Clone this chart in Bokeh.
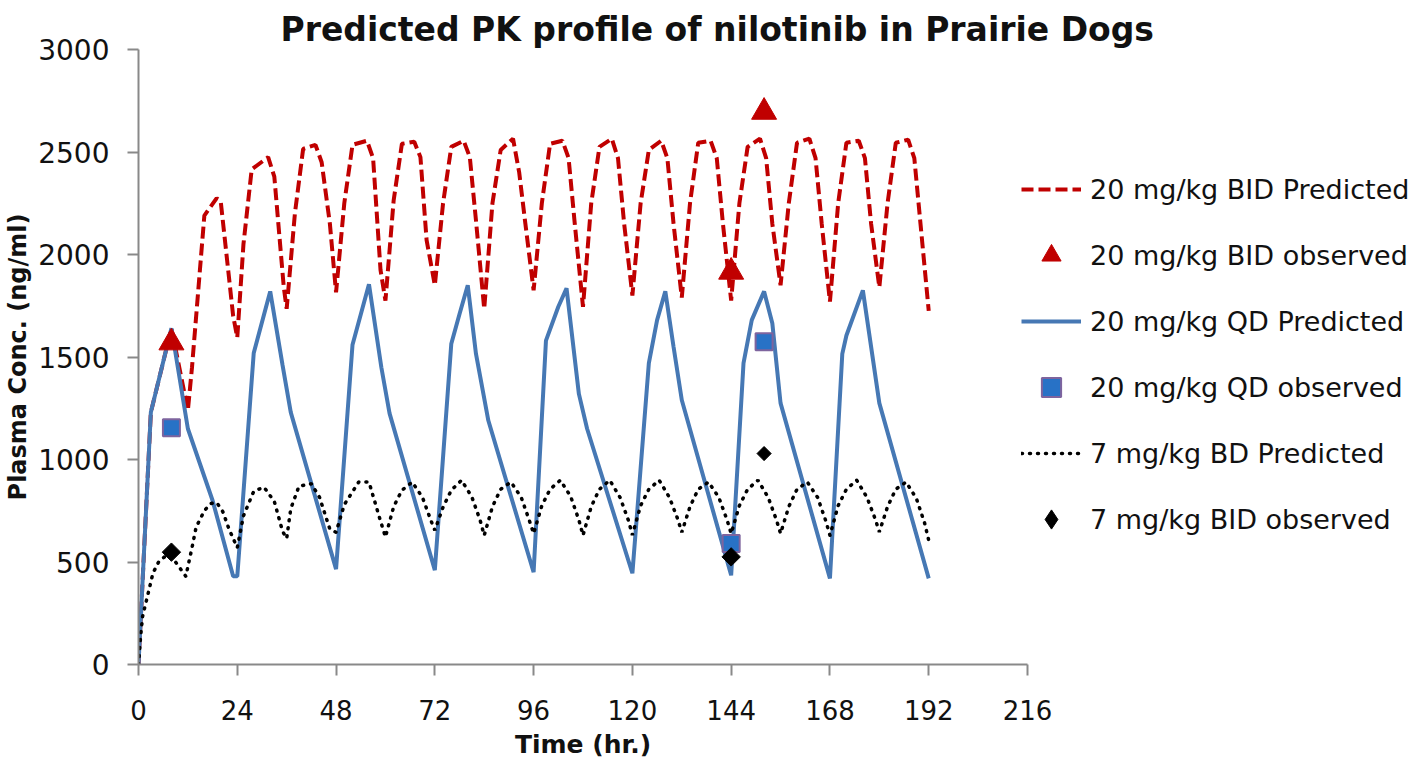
from math import pi
from bokeh.plotting import figure
from bokeh.models import Range1d, FixedTicker, Legend, LegendItem, Title
from bokeh.embed import file_html
from bokeh.resources import INLINE

# ---------------- data ----------------
title_text = "Predicted PK profile of nilotinib in Prairie Dogs"
x_label = "Time (hr.)"
y_label = "Plasma Conc. (ng/ml)"
x_ticks = [0, 24, 48, 72, 96, 120, 144, 168, 192, 216]
y_ticks = [0, 500, 1000, 1500, 2000, 2500, 3000]

# 20 mg/kg BID predicted (hours, ng/ml)
bid_t = [0, 3, 8, 12, 13, 16, 19, 20, 23, 24,
         25.5, 27.5, 31.5, 33, 35.3, 36,
         38, 40, 43, 44.5, 46.5, 48,
         50, 52, 55.5, 57, 58.8, 60,
         62, 64, 67, 68.5, 70, 72,
         74, 76, 79, 80.5, 82, 84,
         86, 88, 91, 92.5, 94, 96,
         98, 100, 103, 104.5, 106, 108,
         110, 112, 115, 116.5, 118, 120,
         122, 124, 127, 128.5, 130, 132,
         134, 136, 139, 140.5, 142, 144,
         146, 148, 151, 152.5, 154, 156,
         158, 160, 163, 164.5, 166, 168,
         170, 172, 175, 176.5, 178, 180,
         182, 184, 187, 188.5, 190, 192]
bid_v = [0, 1230, 1640, 1240, 1450, 2190, 2275, 2255, 1700, 1595,
         2050, 2415, 2475, 2380, 1840, 1735,
         2200, 2515, 2535, 2450, 2150, 1815,
         2250, 2535, 2555, 2470, 1925, 1775,
         2265, 2540, 2550, 2475, 2070, 1850,
         2250, 2525, 2555, 2475, 2165, 1735,
         2250, 2510, 2565, 2400, 2150, 1825,
         2250, 2540, 2555, 2470, 2150, 1745,
         2250, 2525, 2565, 2470, 2150, 1800,
         2250, 2510, 2555, 2470, 2150, 1790,
         2250, 2545, 2555, 2470, 2150, 1775,
         2250, 2525, 2565, 2470, 2150, 1850,
         2250, 2545, 2565, 2470, 2150, 1770,
         2250, 2545, 2555, 2470, 2150, 1840,
         2250, 2545, 2560, 2470, 2150, 1725]

# 20 mg/kg QD predicted
qd_t = [0, 3, 8, 12, 18, 23, 24,
        28, 32, 35, 37, 48,
        52, 56, 59, 61, 72,
        76, 78, 80, 82, 85, 96,
        99, 102, 104, 107, 109, 120,
        124, 126, 128, 130, 132, 144,
        147, 149, 152, 154, 156, 168,
        171, 172, 176, 180, 192]
qd_v = [0, 1230, 1640, 1150, 800, 430, 430,
        1520, 1820, 1460, 1230, 465,
        1560, 1855, 1450, 1225, 460,
        1565, 1710, 1850, 1515, 1190, 450,
        1580, 1745, 1835, 1320, 1150, 445,
        1470, 1680, 1820, 1550, 1290, 435,
        1470, 1680, 1820, 1665, 1275, 420,
        1515, 1605, 1825, 1275, 420]

# 7 mg/kg BD predicted
bd_t = [0, 0.5, 1, 2.5, 3.5, 5, 7, 9, 11.5,
        13, 14, 16, 17.5, 19, 20.5, 22, 24,
        25.5, 28, 30.5, 33, 35, 36,
        37, 39, 42, 44, 46.5, 48,
        50, 53.5, 56, 58.5, 60,
        62, 64, 66.5, 69, 71, 72,
        74, 76, 78.5, 81, 83, 84,
        86, 88, 90.5, 93, 95, 96,
        98, 100, 102.5, 105, 107, 108,
        110, 112, 114.5, 117, 119, 120,
        122, 124, 126.5, 129, 131, 132,
        134, 136, 138.5, 141, 143, 144,
        146, 148, 150.5, 153, 155, 156,
        158, 160, 162.5, 165, 167, 168,
        170, 172, 174.5, 177, 179, 180,
        182, 184, 186.5, 189, 191, 192]
bd_v = [0, 135, 235, 360, 445, 505, 535, 500, 430,
        570, 670, 750, 785, 790, 745, 660, 570,
        725, 845, 865, 795, 650, 615,
        760, 870, 882, 815, 660, 645,
        780, 890, 890, 720, 622,
        770, 850, 890, 815, 705, 655,
        768, 850, 899, 817, 704, 630,
        770, 855, 890, 815, 700, 639,
        775, 855, 899, 820, 705, 630,
        770, 855, 899, 815, 705, 632,
        775, 855, 899, 815, 710, 645,
        770, 855, 890, 815, 705, 639,
        775, 855, 899, 815, 705, 639,
        770, 855, 890, 815, 700, 630,
        775, 855, 899, 815, 710, 647,
        770, 855, 890, 810, 690, 606]

# observed points
bid_obs_t = [8, 144, 152]
bid_obs_v = [1570, 1915, 2695]
qd_obs_t = [8, 144, 152]
qd_obs_v = [1155, 590, 1575]
bd_obs_t = [8, 144, 152]
bd_obs_v = [548, 525, 1029]

legend_labels = ["20 mg/kg BID Predicted", "20 mg/kg BID observed",
                 "20 mg/kg QD Predicted", "20 mg/kg QD observed",
                 "7 mg/kg BD Predicted", "7 mg/kg BID observed"]

# ---------------- styling ----------------
FONT = "DejaVu Sans"
RED = "#C00000"
BLUE = "#4678B4"
AXIS = "#898989"
TXT = "#111111"
bd_obs_size = [13, 13, 10]

p = figure(frame_width=889, frame_height=615,
           min_border_left=138, min_border_right=391,
           min_border_top=49, min_border_bottom=92,
           x_range=Range1d(0, 216), y_range=Range1d(0, 3000),
           output_backend="svg", toolbar_location=None, tools="")
p.xgrid.visible = False
p.ygrid.visible = False
p.outline_line_color = None
p.background_fill_color = "white"
p.border_fill_color = "white"

p.title = Title(text=title_text, align="left", offset=142, standoff=1,
                text_font=FONT, text_font_style="bold", text_font_size="33px",
                text_color=TXT)

p.xaxis.ticker = FixedTicker(ticks=x_ticks)
p.yaxis.ticker = FixedTicker(ticks=y_ticks)
for ax in (p.xaxis, p.yaxis):
    ax.axis_line_color = AXIS
    ax.axis_line_width = 2
    ax.major_tick_line_color = AXIS
    ax.major_tick_line_width = 2
    ax.major_tick_out = 11
    ax.major_tick_in = 0
    ax.minor_tick_line_color = None
    ax.major_label_text_font = FONT
    ax.major_label_text_color = TXT
    ax.axis_label_text_font = FONT
    ax.axis_label_text_font_style = "bold"
    ax.axis_label_text_color = TXT

p.xaxis.major_label_text_font_size = "26px"
p.xaxis.major_label_standoff = 24
p.xaxis.axis_label = x_label
p.xaxis.axis_label_text_font_size = "25px"
p.xaxis.axis_label_standoff = 7

p.yaxis.major_label_text_font_size = "28px"
p.yaxis.major_label_standoff = 18
p.yaxis.axis_label = y_label
p.yaxis.axis_label_text_font_size = "24px"
p.yaxis.axis_label_standoff = 3

# lines
r_bid = p.line(bid_t, bid_v, line_color=RED, line_width=4, line_dash="12 5")
r_qd = p.line(qd_t, qd_v, line_color=BLUE, line_width=4)
r_bd = p.line(bd_t, bd_v, line_color="black", line_width=3.5, line_dash="1 7", line_cap="round")

# markers
r_bid_obs = p.scatter(bid_obs_t, bid_obs_v, marker="triangle", size=25,
                      fill_color=RED, line_color=RED, line_width=1)
r_qd_obs = p.scatter(qd_obs_t, qd_obs_v, marker="square", size=17,
                     fill_color="#2872C6", line_color="#7E649E", line_width=2)
# diamond glyph (used for the legend swatch), covered by the rotated squares below
r_bd_key = p.scatter(bd_obs_t, bd_obs_v, marker="diamond", size=12,
                     fill_color="black", line_color="black", line_width=1)
p.scatter(bd_obs_t, bd_obs_v, marker="square", size=bd_obs_size, angle=pi / 4,
          fill_color="black", line_color="black", line_width=1)

items = [LegendItem(label=lab, renderers=[r]) for lab, r in
         zip(legend_labels, [r_bid, r_bid_obs, r_qd, r_qd_obs, r_bd, r_bd_key])]
legend = Legend(items=items, location=(-6, 121), orientation="vertical",
                glyph_width=60, glyph_height=48, label_height=48, spacing=18,
                label_standoff=9, padding=0, margin=0,
                label_text_font=FONT, label_text_font_size="27px",
                label_text_color=TXT, border_line_color=None,
                background_fill_alpha=0)
p.add_layout(legend, "right")

open("out.html", "w").write(file_html(p, INLINE))
